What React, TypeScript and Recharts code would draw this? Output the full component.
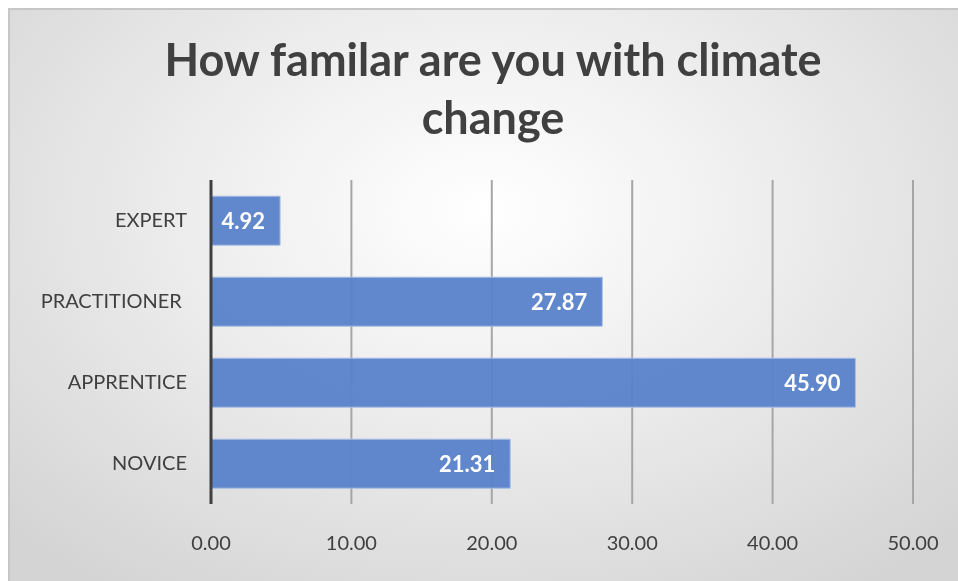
import React from 'react';
import { BarChart, Bar, XAxis, YAxis, CartesianGrid, LabelList } from 'recharts';

const categories = ['EXPERT', 'PRACTITIONER ', 'APPRENTICE', 'NOVICE'];
const percentages = [4.92, 27.87, 45.9, 21.31];
const xTicks = [0, 10, 20, 30, 40, 50];

const data = categories.map((name, i) => ({ name, value: percentages[i] }));

const FONT = 'Lato, "Open Sans", sans-serif';

function XTick({ x, y, payload }: any) {
  return (
    <text x={x} y={y + 38} textAnchor="middle" fill="#404040" fontSize={20} fontFamily={FONT}>
      {payload.value.toFixed(2)}
    </text>
  );
}

function YTick({ x, y, payload }: any) {
  return (
    <text
      x={x - 16}
      y={y + 6}
      textAnchor="end"
      fill="#404040"
      fontSize={20}
      fontFamily={FONT}
      style={{ whiteSpace: 'pre' }}
    >
      {payload.value}
    </text>
  );
}

export default function App() {
  return (
    <div
      style={{
        position: 'fixed',
        left: 8,
        top: 8,
        width: 950,
        height: 573,
        borderTop: '2px solid #c6c6c6',
        borderLeft: '2px solid #c6c6c6',
        boxSizing: 'border-box',
        overflow: 'hidden',
        background:
          'radial-gradient(ellipse 70% 80% at 50% 35%, #ffffff 0%, #efefef 40%, #d4d4d4 100%)',
      }}
    >
      <style>{`html,body{overflow:hidden}`}</style>
      <div
        style={{
          position: 'absolute',
          left: 0,
          width: 966,
          top: 20,
          textAlign: 'center',
          fontFamily: FONT,
          fontWeight: 700,
          fontSize: 45,
          lineHeight: '58px',
          color: '#404040',
        }}
      >
        How familar are you with climate
        <br />
        change
      </div>
      <BarChart
        width={948}
        height={571}
        data={data}
        layout="vertical"
        margin={{ top: 170, right: 45, bottom: 37, left: 0 }}
        barCategoryGap="20%"
        style={{ position: 'absolute', left: 0, top: 0 }}
      >
        <CartesianGrid horizontal={false} stroke="#a6a6a6" strokeWidth={2} />
        <XAxis
          type="number"
          domain={[0, 50]}
          ticks={xTicks}
          axisLine={false}
          tickLine={false}
          height={40}
          tick={<XTick />}
        />
        <YAxis
          type="category"
          dataKey="name"
          width={201}
          axisLine={{ stroke: '#404040', strokeWidth: 3 }}
          tickLine={false}
          tick={<YTick />}
        />
        <Bar
          dataKey="value"
          fill="#5981c9"
          fillOpacity={0.95}
          stroke="#a9bfe6"
          strokeWidth={1}
          isAnimationActive={false}
        >
          <LabelList
            dataKey="value"
            position="insideRight"
            offset={15}
            formatter={(v: any) => Number(v).toFixed(2)}
            fill="#ffffff"
            fontSize={22}
            fontWeight={700}
            fontFamily={FONT}
          />
        </Bar>
      </BarChart>
    </div>
  );
}
